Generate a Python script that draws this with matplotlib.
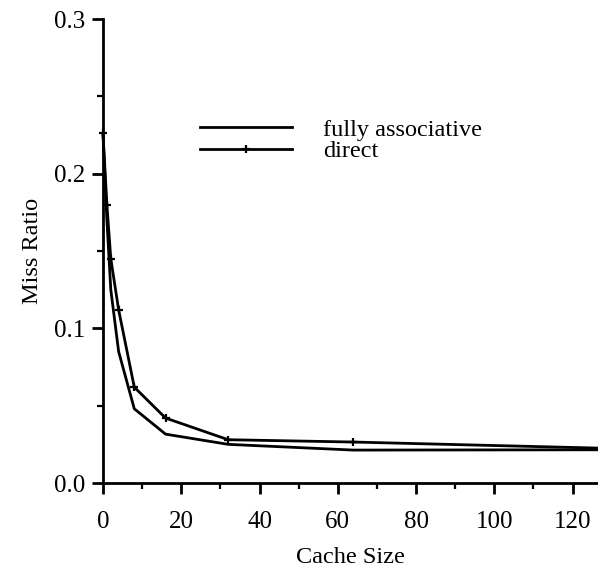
import matplotlib
matplotlib.use("Agg")
import matplotlib.pyplot as plt
from matplotlib.ticker import MultipleLocator

plt.rcParams["font.family"] = ["Liberation Serif", "DejaVu Serif"]

cache_size = [0, 1, 2, 4, 8, 16, 32, 64, 128]
fully_assoc = [0.226, 0.170, 0.125, 0.085, 0.048, 0.0316, 0.025, 0.0213, 0.0215]
direct = [0.226, 0.180, 0.145, 0.112, 0.062, 0.042, 0.028, 0.0265, 0.0225]

fig = plt.figure(figsize=(5.98, 5.68), dpi=100)
ax = fig.add_axes([0.1722, 0.1496, 0.8278, 0.8169])

ax.plot(cache_size, fully_assoc, color="black", lw=2.0, label="fully associative", clip_on=False)
ax.plot(cache_size, direct, color="black", lw=2.0, marker="+", ms=6, mew=1.6,
        label="direct", clip_on=False)

ax.set_xlim(0, 126.5)
ax.set_ylim(0, 0.3)
ax.xaxis.set_major_locator(MultipleLocator(20))
ax.xaxis.set_minor_locator(MultipleLocator(10))
ax.yaxis.set_major_locator(MultipleLocator(0.1))
ax.yaxis.set_minor_locator(MultipleLocator(0.05))
ax.yaxis.set_major_formatter(matplotlib.ticker.FormatStrFormatter("%.1f"))

for side in ("top", "right"):
    ax.spines[side].set_visible(False)
for side in ("left", "bottom"):
    ax.spines[side].set_linewidth(2.0)

ax.tick_params(which="major", direction="out", length=8, width=2, labelsize=18)
ax.tick_params(which="minor", direction="out", length=4.5, width=1.6)
ax.tick_params(axis="x", which="major", pad=12)
ax.tick_params(axis="y", which="major", pad=5)

ax.set_xlabel("Cache Size", fontsize=17.5, labelpad=10)
ax.set_ylabel("Miss Ratio", fontsize=17.5, labelpad=8)

ax.legend(loc="upper left", bbox_to_anchor=(0.196, 0.785), frameon=False, fontsize=17.5,
          handlelength=3.8, handletextpad=1.25, labelspacing=-0.03, borderpad=0,
          borderaxespad=0)

fig.savefig("out.png", dpi=100)
